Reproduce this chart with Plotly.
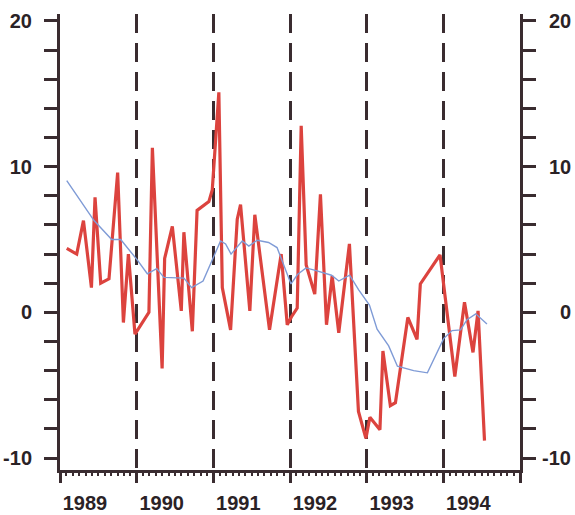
import plotly.graph_objects as go

# Red series: time (decimal year) and value
red_t = [1989.088, 1989.218, 1989.306, 1989.410, 1989.457, 1989.531, 1989.639, 1989.752,
         1989.827, 1989.892, 1989.978, 1990.160, 1990.205, 1990.332, 1990.365, 1990.465,
         1990.582, 1990.616, 1990.726, 1990.788, 1990.942, 1990.986, 1991.072, 1991.117,
         1991.225, 1991.312, 1991.355, 1991.476, 1991.541, 1991.733, 1991.885, 1991.964,
         1992.020, 1992.094, 1992.146, 1992.211, 1992.323, 1992.397, 1992.476, 1992.550,
         1992.636, 1992.775, 1992.893, 1992.990, 1993.042, 1993.173, 1993.212, 1993.309,
         1993.375, 1993.537, 1993.657, 1993.700, 1993.957, 1994.150, 1994.276, 1994.387,
         1994.453, 1994.537]
red_v = [4.4, 4.0, 6.3, 1.7, 7.9, 2.0, 2.3, 9.6,
         -0.7, 4.0, -1.5, 0.0, 11.3, -3.85, 3.7, 5.9,
         0.1, 5.5, -1.3, 7.0, 7.6, 8.4, 15.1, 1.7,
         -1.2, 6.4, 7.4, 0.1, 6.7, -1.2, 4.0, -0.85,
         -0.3, 0.3, 12.8, 3.25, 1.25, 8.1, -0.85, 2.5,
         -1.4, 4.7, -6.8, -8.65, -7.2, -8.05, -2.65, -6.4,
         -6.2, -0.35, -1.85, 1.95, 3.95, -4.4, 0.7, -2.75,
         0.1, -8.8]

# Blue (smoothed) series
blue_t = [1989.088, 1989.270, 1989.444, 1989.674, 1989.792, 1990.007, 1990.139, 1990.261,
          1990.356, 1990.616, 1990.717, 1990.866, 1990.997, 1991.094, 1991.160, 1991.231,
          1991.377, 1991.463, 1991.573, 1991.720, 1991.831, 1992.013, 1992.098, 1992.208,
          1992.319, 1992.440, 1992.541, 1992.636, 1992.778, 1992.896, 1993.036, 1993.136,
          1993.287, 1993.401, 1993.613, 1993.792, 1994.004, 1994.113, 1994.225, 1994.309,
          1994.423, 1994.569]
blue_v = [9.05, 7.6, 6.3, 5.0, 5.0, 3.6, 2.65, 3.0,
          2.4, 2.35, 1.7, 2.15, 3.7, 4.9, 4.7, 4.0,
          4.9, 4.55, 4.95, 4.8, 4.45, 1.95, 2.6, 3.05,
          2.9, 2.7, 2.55, 2.15, 2.55, 1.55, 0.5, -1.15,
          -2.3, -3.7, -4.0, -4.15, -1.8, -1.25, -1.2, -0.5,
          -0.1, -0.8]

year_ticks = [1989, 1990, 1991, 1992, 1993, 1994, 1995]
year_labels = ["1989", "1990", "1991", "1992", "1993", "1994", ""]
y_ticks = [-10, 0, 10, 20]
y_labels = ["-10", "0", "10", "20"]

AX = "#3a2c30"
FONT = dict(family="Liberation Sans, Arial, sans-serif", size=20, color="#2a2226", weight="bold")
XRANGE = [year_ticks[0], year_ticks[-1]]

fig = go.Figure()
fig.add_trace(go.Scatter(x=blue_t, y=blue_v, mode="lines", xaxis="x2",
                         line=dict(color="#7f9bd6", width=1.4), hoverinfo="skip"))
fig.add_trace(go.Scatter(x=red_t, y=red_v, mode="lines",
                         line=dict(color="#dc433e", width=3.2), hoverinfo="skip"))

fig.update_layout(
    width=575, height=515,
    margin=dict(l=60, r=55, t=14, b=45, autoexpand=False),
    paper_bgcolor="white", plot_bgcolor="white",
    showlegend=False,
    font=FONT,
    xaxis=dict(
        range=XRANGE, tickmode="array", tickvals=year_ticks, ticktext=year_labels,
        ticks="outside", ticklen=10, tickwidth=2.5, tickcolor=AX,
        ticklabelposition="outside right", ticklabelstandoff=13, automargin=False,
        showline=True, linecolor=AX, linewidth=3,
        showgrid=True, gridcolor=AX, gridwidth=2.5, griddash="19px,10px",
        zeroline=False, tickfont=FONT,
    ),
    xaxis2=dict(
        range=XRANGE, overlaying="x", side="bottom", anchor="y", matches="x",
        tickmode="linear", tick0=year_ticks[0], dtick=1 / 12,
        ticks="outside", ticklen=5, tickwidth=1.5, tickcolor=AX,
        showticklabels=False, showline=False, showgrid=False, zeroline=False,
        automargin=False,
    ),
    yaxis=dict(
        range=[-10.82, 20.48], tickmode="array", tickvals=y_ticks, ticktext=y_labels,
        ticks="outside", ticklen=13, tickwidth=2.5, tickcolor=AX, automargin=False,
        showline=True, linecolor=AX, linewidth=3, mirror="allticks",
        showgrid=False, zeroline=False, tickfont=FONT, ticklabelstandoff=8,
        minor=dict(tickmode="linear", tick0=-10, dtick=2, ticks="outside",
                   ticklen=10, tickwidth=2.5, tickcolor=AX, showgrid=False),
    ),
)

for v, t in zip(y_ticks, y_labels):
    fig.add_annotation(x=1, xref="paper", y=v, yref="y", text=t, showarrow=False,
                       xanchor="right", yanchor="middle", xshift=53, font=FONT)

fig.write_html("out.html", config={"displayModeBar": False},
               post_script="document.body.style.margin='0';document.body.style.overflow='hidden';")
